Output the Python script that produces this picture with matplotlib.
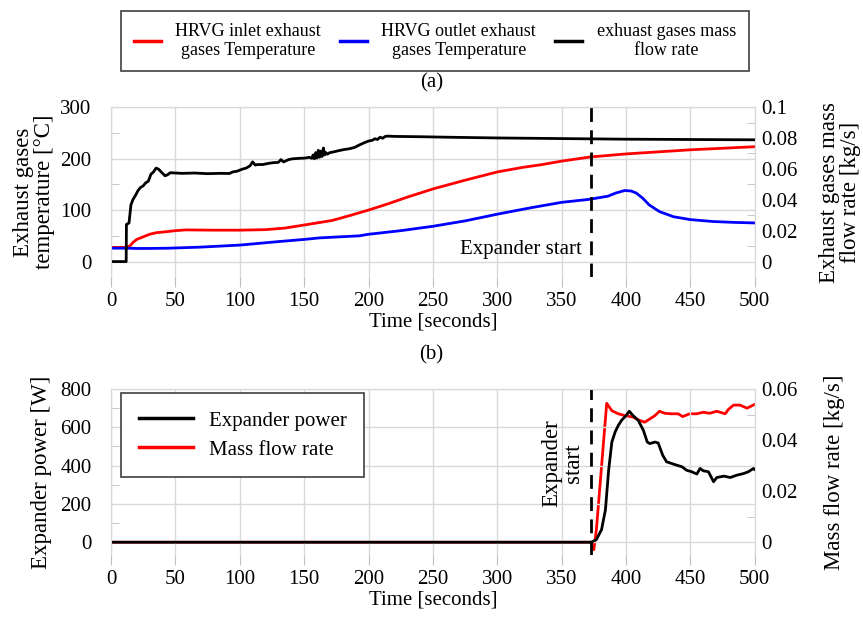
import matplotlib
matplotlib.use("Agg")
import matplotlib.pyplot as plt
from matplotlib.lines import Line2D

plt.rcParams['font.family'] = ['Liberation Serif', 'DejaVu Serif']
plt.rcParams['font.size'] = 15

GRID = '#d9d9d9'
TICK = '#bfbfbf'
LABEL_SIZE = 16.5

# (a) HRVG inlet / outlet exhaust temperatures [C]
t_in = [0, 12, 15, 17, 20, 25, 30, 35, 43, 50, 58, 80, 100, 120, 135, 150, 160, 172, 185, 200,
        215, 230, 250, 275, 300, 320, 334, 350, 372, 400, 425, 450, 475, 500]
T_in = [27.5, 27.5, 31, 37, 43, 48, 53, 56, 58, 60, 61.5, 61, 61, 62, 65, 71, 75, 80, 89, 100,
        112, 125, 141, 158, 174, 183, 188, 195, 203, 209, 213, 217, 220, 223]

t_out = [0, 12, 20, 30, 45, 69, 100, 131, 150, 162, 193, 200, 225, 250, 275, 300, 325, 350, 372,
         386, 392, 399, 404, 408, 413, 418, 426, 437, 450, 468, 485, 500]
T_out = [26, 26, 25.5, 25.5, 26, 28, 32, 39, 43, 46, 50, 53, 60, 68.5, 79, 92, 104, 115, 121,
         127, 133, 138, 137, 133, 123, 110, 97, 87, 81.5, 77.7, 76, 75]

# (a) exhaust gases mass flow rate [kg/s]
t_exh = [0, 11.8, 12, 14, 15.5, 17, 19.4, 21, 23, 25, 27, 29, 31, 33, 35, 37, 39, 42, 44, 46,
         55, 65, 75, 85, 92, 94.5, 98, 102, 105, 108, 110, 112, 114, 118, 122, 126, 130, 132, 134,
         138, 141, 146, 151, 154, 156, 157, 158, 159, 160, 161, 162, 163, 164, 165, 166, 167, 168,
         170, 173, 177, 181, 185, 189, 193, 197, 200, 203, 205, 207, 209, 211, 213, 215, 220, 240,
         260, 300, 350, 400, 450, 500]
m_exh = [0, 0, 0.024, 0.025, 0.0367, 0.040, 0.0434, 0.046, 0.048, 0.049, 0.051, 0.052, 0.0565,
         0.058, 0.0605, 0.0598, 0.058, 0.0555, 0.0562, 0.0575,
         0.0571, 0.0573, 0.0569, 0.0571, 0.0570, 0.058, 0.0585, 0.0598, 0.0605, 0.062, 0.0645,
         0.0625, 0.0628, 0.0628, 0.0635, 0.064, 0.0642, 0.066, 0.0645,
         0.066, 0.0665, 0.0668, 0.067, 0.0675, 0.0668, 0.069, 0.0665, 0.0705, 0.067, 0.072, 0.0675,
         0.0715, 0.068, 0.0735, 0.069, 0.0705, 0.0695,
         0.0705, 0.071, 0.0718, 0.0725, 0.073, 0.0738, 0.0755, 0.077, 0.078, 0.0785, 0.0795, 0.079,
         0.0805, 0.0798, 0.081, 0.0812, 0.081, 0.0808,
         0.0805, 0.0800, 0.0796, 0.0792, 0.0790, 0.0788]

# (b) expander power [W]
t_pw = [0, 373, 377, 381, 384, 386.5, 389, 391.5, 394, 396.5, 400, 402.5, 405.5, 409.5, 413.5,
        416.5, 418.5, 422.5, 425, 428.5, 431.5, 435.5, 439.5, 443.5, 447, 451, 455, 457.5, 460,
        464, 468, 470.5, 476, 481, 486, 491.5, 495, 499, 500]
P_exp = [0, 0, 14, 66, 169, 376, 523, 575, 610, 636, 661, 684, 661, 636, 584,
         523, 515, 523, 518, 454, 420, 411, 402, 394, 376, 368, 356, 385, 373,
         368, 316, 338, 345, 338, 350, 359, 368, 385, 380]

# (b) working fluid mass flow rate [kg/s]
t_wf = [0, 374, 375, 377, 385, 389, 394, 399, 405.5, 410.5, 414.5, 418.5, 422.5, 426, 430, 435,
        440.5, 444, 449.5, 455, 460, 465, 470.5, 477, 479.5, 483.5, 488.5, 494, 500]
m_wf = [0, 0, -0.0029, 0.005, 0.0544, 0.0515, 0.0503, 0.0496, 0.049, 0.0477, 0.047, 0.0483,
        0.0496, 0.0513, 0.0505, 0.0503, 0.0503, 0.0492, 0.0503, 0.0503, 0.0509, 0.0505, 0.0513,
        0.0503, 0.052, 0.0537, 0.0537, 0.0525, 0.054]

T_START = 373
x_ticks = list(range(0, 501, 50))


def style_axes(ax, ax2):
    for a in (ax, ax2):
        a.spines['bottom'].set_visible(False)
        for s in ('left', 'right', 'top'):
            a.spines[s].set_color(GRID)
    ax.set_xlim(0, 500)
    ax.set_xticks(x_ticks)
    ax.tick_params(axis='x', direction='out', length=7, color=TICK, pad=4)
    ax.tick_params(axis='y', which='major', length=0, pad=14)
    ax.tick_params(axis='y', which='minor', direction='in', length=6, color=TICK)
    ax2.tick_params(axis='y', which='major', length=0, pad=5)
    ax2.tick_params(axis='y', which='minor', direction='in', length=6, color=TICK)
    ax.grid(True, color=GRID, lw=1)
    ax.set_axisbelow(True)
    ax.axvline(T_START, color='k', lw=2, ls=(0, (5, 3)))
    ax.set_xlabel('Time [seconds]', labelpad=1)


fig = plt.figure(figsize=(8.63, 6.17), dpi=100)

# ---------- (a) ----------
ax = fig.add_axes([0.1286, 0.551, 0.746, 0.2755])
ax2 = ax.twinx()
ax.plot(t_in, T_in, color='#ff0000', lw=2)
ax.plot(t_out, T_out, color='#0000ff', lw=2)
ax2.plot(t_exh, m_exh, color='k', lw=2)
ax.set_ylim(-30, 300)
ax.set_yticks([0, 100, 200, 300])
ax.set_yticks([50, 150, 250], minor=True)
ax2.set_ylim(-0.01, 0.1)
ax2.set_yticks([0, 0.02, 0.04, 0.06, 0.08, 0.1])
ax2.set_yticklabels(['0', '0.02', '0.04', '0.06', '0.08', '0.1'])
ax2.set_yticks([0.01, 0.03, 0.05, 0.07, 0.09], minor=True)
style_axes(ax, ax2)
ax.set_ylabel('Exhaust gases\ntemperature [°C]', linespacing=1.0, fontsize=LABEL_SIZE)
ax.yaxis.set_label_coords(-0.087, 0.5)
ax2.set_ylabel('Exhaust gases mass\nflow rate [kg/s]', linespacing=1.0, rotation=90,
               fontsize=LABEL_SIZE)
ax2.yaxis.set_label_coords(1.099, 0.5)
ax.text(366, 15, 'Expander start', ha='right', va='baseline')

handles = [Line2D([], [], color='#ff0000', lw=2.5),
           Line2D([], [], color='#0000ff', lw=2.5),
           Line2D([], [], color='k', lw=2.5)]
labels = ['HRVG inlet exhaust\ngases Temperature',
          'HRVG outlet exhaust\ngases Temperature',
          'exhuast gases mass\nflow rate']
leg = fig.legend(handles, labels, loc='center', ncol=3, mode='expand',
                 bbox_to_anchor=(0.1298, 0.880, 0.748, 0.107), fontsize=13,
                 handlelength=1.5, handletextpad=0.8, borderpad=0.7, fancybox=False,
                 edgecolor='#404040', framealpha=1)
leg.get_frame().set_linewidth(1.2)
for txt in leg.get_texts():
    txt.set_multialignment('center')
    txt.set_linespacing(1.1)
fig.text(0.5, 0.865, '(a)', ha='center', va='center')

# ---------- (b) ----------
bx = fig.add_axes([0.1286, 0.1005, 0.746, 0.269])
bx2 = bx.twinx()
bx2.plot(t_wf, m_wf, color='#ff0000', lw=2)
bx.plot(t_pw, P_exp, color='k', lw=2)
bx.set_zorder(bx2.get_zorder() + 1)
bx.patch.set_visible(False)
bx.set_ylim(-66.7, 800)
bx.set_yticks([0, 200, 400, 600, 800])
bx.set_yticks([100, 300, 500, 700], minor=True)
bx2.set_ylim(-0.005, 0.06)
bx2.set_yticks([0, 0.02, 0.04, 0.06])
bx2.set_yticklabels(['0', '0.02', '0.04', '0.06'])
bx2.set_yticks([0.01, 0.03, 0.05], minor=True)
style_axes(bx, bx2)
bx.set_ylabel('Expander power [W]', fontsize=LABEL_SIZE)
bx.yaxis.set_label_coords(-0.092, 0.5)
bx2.set_ylabel('Mass flow rate [kg/s]', rotation=90, fontsize=LABEL_SIZE)
bx2.yaxis.set_label_coords(1.108, 0.5)
bx.text(367, 413, 'Expander\nstart', rotation=90, ha='right', va='center',
        multialignment='center', linespacing=1.0, fontsize=LABEL_SIZE)

leg2 = bx.legend([Line2D([], [], color='k', lw=2.5), Line2D([], [], color='#ff0000', lw=2.5)],
                 ['Expander power', 'Mass flow rate'], loc='upper left',
                 bbox_to_anchor=(0.016, 0.973), borderaxespad=0, handlelength=2.6,
                 handletextpad=0.75, borderpad=0.85, labelspacing=0.45, fancybox=False,
                 edgecolor='#404040', framealpha=1)
leg2.get_frame().set_linewidth(1.2)
fig.text(0.5, 0.425, '(b)', ha='center', va='center')

fig.savefig('out.png', dpi=100)
